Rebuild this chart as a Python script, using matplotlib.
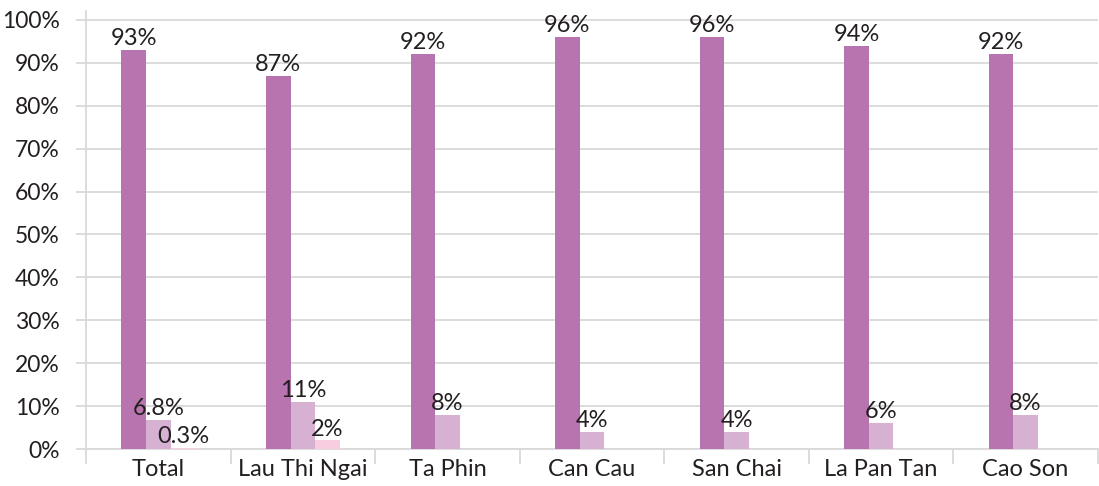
import numpy as np
import matplotlib.pyplot as plt
from matplotlib.ticker import FixedLocator, PercentFormatter

plt.rcParams['font.family'] = ['Lato', 'DejaVu Sans']

categories = ['Total', 'Lau Thi Ngai', 'Ta Phin', 'Can Cau', 'San Chai', 'La Pan Tan', 'Cao Son']
series1 = [93, 87, 92, 96, 96, 94, 92]
series2 = [6.8, 11, 8, 4, 4, 6, 8]
series3 = [0.3, 2, 0, 0, 0, 0, 0]
labels1 = ['93%', '87%', '92%', '96%', '96%', '94%', '92%']
labels2 = ['6.8%', '11%', '8%', '4%', '4%', '6%', '8%']
labels3 = ['0.3%', '2%', '', '', '', '', '']

colors = ['#B874AE', '#D6B1D1', '#F8CDE0']
grid_col = '#D9D9D9'
text_col = '#231F20'

fig = plt.figure(figsize=(10.99, 4.86), dpi=100)
ax = fig.add_axes([86 / 1099, 37 / 486, 1 - 86 / 1099 - 0.001, 437.6 / 486])

x = np.arange(len(categories))
w = 0.17
for off, vals, labs, c in zip([-w, 0, w], [series1, series2, series3],
                              [labels1, labels2, labels3], colors):
    bars = ax.bar(x + off, vals, width=w, color=c, zorder=3)
    for b, lab in zip(bars, labs):
        if lab:
            ax.text(b.get_x() + b.get_width() / 2, b.get_height() + 0.2, lab,
                    ha='center', va='bottom', fontsize=17, color=text_col, zorder=4)

ax.set_xlim(-0.5, len(categories) - 0.5)
ax.set_ylim(0, 102)
ax.set_yticks(np.arange(0, 101, 10))
ax.yaxis.set_major_formatter(PercentFormatter(decimals=0))
ax.grid(axis='y', color=grid_col, linewidth=1.3, zorder=0)

ax.xaxis.set_major_locator(FixedLocator(np.arange(-0.5, len(categories), 1)))
ax.xaxis.set_major_formatter(plt.NullFormatter())
ax.xaxis.set_minor_locator(FixedLocator(x))
ax.set_xticklabels(categories, minor=True)
ax.tick_params(axis='x', which='major', length=11, color=grid_col, width=1.3)
ax.tick_params(axis='x', which='minor', length=0, pad=7, labelsize=17, labelcolor=text_col)
ax.tick_params(axis='y', length=7, color=grid_col, width=1.3, pad=12, labelsize=16.5, labelcolor=text_col)

for s in ['top', 'right']:
    ax.spines[s].set_visible(False)
ax.spines['left'].set_color(grid_col)
ax.spines['left'].set_linewidth(1.3)
ax.spines['bottom'].set_color(grid_col)
ax.spines['bottom'].set_linewidth(1.3)

fig.savefig('out.png', dpi=100)
